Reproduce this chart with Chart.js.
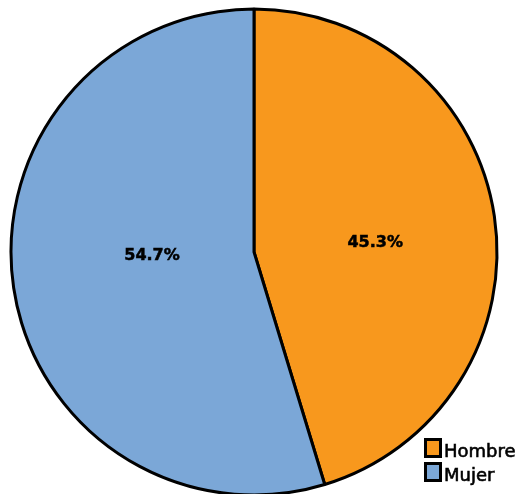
<!DOCTYPE html>
<html lang="es">
<head>
    <meta charset="UTF-8">
    <title>Hombre / Mujer</title>
    <script src="https://cdn.jsdelivr.net/npm/chart.js"></script>
    <style>
        body {
            margin: 0;
            background: #ffffff;
        }
        #pie {
            display: block;
        }
    </style>
</head>
<body>

<canvas id="pie" width="517" height="494"></canvas>

<script>
    const labels = ['Hombre', 'Mujer'];
    const values = [45.3, 54.7];
    const colors = ['#F8981D', '#7BA7D7'];

    // percent text on each slice, nudged per slice
    const sliceLabels = {
        id: 'sliceLabels',
        afterDatasetsDraw(chart, args, opts) {
            const ctx = chart.ctx;
            const data = chart.data.datasets[0].data;
            const total = data.reduce((a, b) => a + b, 0);
            ctx.save();
            ctx.font = 'bold 16px "DejaVu Sans"';
            ctx.fillStyle = '#000';
            ctx.strokeStyle = '#000';
            ctx.lineWidth = 0.5;
            ctx.textAlign = 'center';
            ctx.textBaseline = 'middle';
            chart.getDatasetMeta(0).data.forEach((arc, i) => {
                const p = arc.getProps(['x', 'y', 'startAngle', 'endAngle', 'outerRadius'], true);
                const mid = (p.startAngle + p.endAngle) / 2 + opts.shift[i] * Math.PI / 180;
                const r = p.outerRadius * opts.radius[i];
                const txt = (data[i] / total * 100).toFixed(1) + '%';
                const tx = p.x + Math.cos(mid) * r;
                const ty = p.y + Math.sin(mid) * r;
                ctx.fillText(txt, tx, ty);
                ctx.strokeText(txt, tx, ty);
            });
            ctx.restore();
        }
    };

    // small boxed legend in the bottom right corner
    const cornerLegend = {
        id: 'cornerLegend',
        afterDraw(chart) {
            const ctx = chart.ctx;
            const ds = chart.data.datasets[0];
            const x = chart.width - 91.5;
            let y = chart.height - 54.5;
            ctx.save();
            ctx.font = '18px "DejaVu Sans"';
            ctx.textBaseline = 'alphabetic';
            chart.data.labels.forEach((lab, i) => {
                ctx.fillStyle = ds.backgroundColor[i];
                ctx.fillRect(x, y, 15, 17);
                ctx.lineWidth = 3;
                ctx.strokeStyle = '#000';
                ctx.strokeRect(x, y, 15, 17);
                ctx.fillStyle = '#000';
                ctx.lineWidth = 0.6;
                ctx.fillText(lab, x + 18.5, y + 17.5);
                ctx.strokeText(lab, x + 18.5, y + 17.5);
                y += 24;
            });
            ctx.restore();
        }
    };

    new Chart(document.getElementById('pie'), {
        type: 'pie',
        data: {
            labels: labels,
            datasets: [{
                data: values,
                backgroundColor: colors,
                borderColor: '#000',
                borderWidth: 3,
                radius: 243
            }]
        },
        options: {
            responsive: false,
            animation: false,
            layout: { padding: { left: 0, right: 9, top: 10, bottom: 0 } },
            plugins: {
                legend: { display: false },
                tooltip: { enabled: false },
                sliceLabels: { radius: [0.5, 0.42], shift: [4.2, 6.5] }
            }
        },
        plugins: [sliceLabels, cornerLegend]
    });
</script>

</body>
</html>
